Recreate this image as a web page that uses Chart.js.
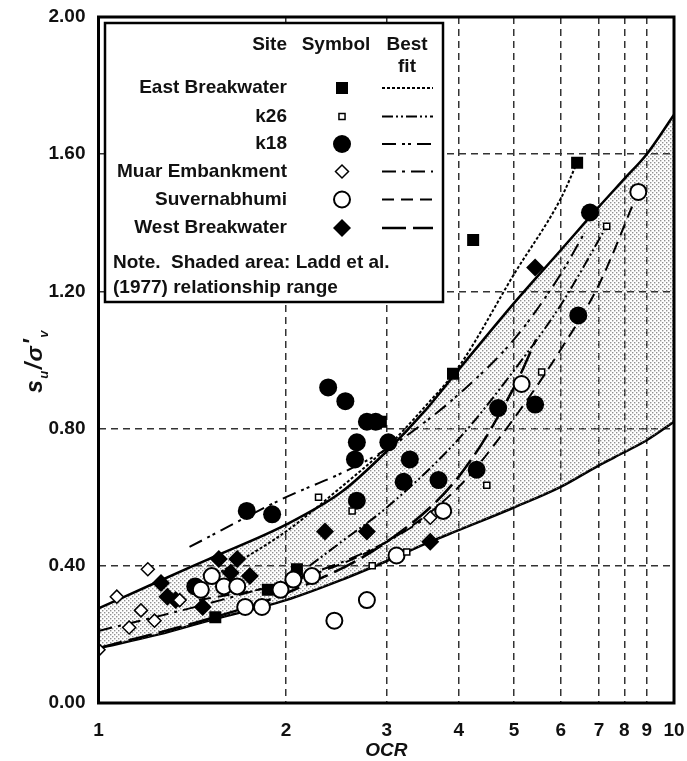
<!DOCTYPE html>
<html>
<head>
<meta charset="utf-8">
<script src="https://cdn.jsdelivr.net/npm/chart.js@4/dist/chart.umd.min.js"></script>
<style>
  html, body { margin: 0; padding: 0; background: #fff; }
  #wrap { width: 687px; height: 761px; }
</style>
</head>
<body>
<div id="wrap"><canvas id="c" width="687" height="761"></canvas></div>
<script>
// ---- axis ticks ----
const ocrTicks = [1, 2, 3, 4, 5, 6, 7, 8, 9, 10];
const ratioTicks = [0, 0.4, 0.8, 1.2, 1.6, 2.0];

// ---- Ladd et al. (1977) relationship range ----
const laddOCR   = [1, 1.25, 1.5, 2, 2.5, 3, 3.5, 4, 5, 6, 7, 8, 9, 10];
const laddUpper = [0.276, 0.355, 0.419, 0.52, 0.615, 0.734, 0.853, 0.972, 1.166, 1.32, 1.447, 1.528, 1.60, 1.715];
const laddLower = [0.16, 0.20, 0.24, 0.30, 0.359, 0.414, 0.464, 0.504, 0.57, 0.63, 0.693, 0.731, 0.766, 0.82];

// ---- measured points per site ----
const eastOCR = [1.54, 1.87, 2.09, 2.93, 3.91, 4.24, 6.41];
const eastSu  = [0.25, 0.33, 0.39, 0.82, 0.96, 1.35, 1.575];

const k26OCR = [2.28, 2.61, 2.83, 3.25, 4.48, 5.57, 7.29];
const k26Su  = [0.60, 0.56, 0.40, 0.44, 0.635, 0.965, 1.39];

const k18OCR = [1.43, 1.73, 1.90, 2.37, 2.54, 2.64, 2.66, 2.66, 2.77, 2.87, 3.02, 3.21, 3.29, 3.69, 4.30, 4.69, 5.43, 6.44, 6.75];
const k18Su  = [0.34, 0.56, 0.55, 0.92, 0.88, 0.71, 0.76, 0.59, 0.82, 0.82, 0.76, 0.645, 0.71, 0.65, 0.68, 0.86, 0.87, 1.13, 1.43];

const muarOCR = [1.00, 1.07, 1.12, 1.17, 1.20, 1.23, 1.35, 3.57];
const muarSu  = [0.155, 0.31, 0.22, 0.27, 0.39, 0.24, 0.30, 0.54];

const suvOCR = [1.46, 1.52, 1.59, 1.67, 1.72, 1.83, 1.96, 2.06, 2.22, 2.43, 2.77, 3.12, 3.76, 5.15, 8.61];
const suvSu  = [0.33, 0.37, 0.34, 0.34, 0.28, 0.28, 0.33, 0.36, 0.37, 0.24, 0.30, 0.43, 0.56, 0.93, 1.49];

const westOCR = [1.26, 1.29, 1.33, 1.47, 1.56, 1.63, 1.67, 1.75, 2.34, 2.77, 3.57, 5.43];
const westSu  = [0.35, 0.31, 0.30, 0.28, 0.42, 0.38, 0.42, 0.37, 0.50, 0.50, 0.47, 1.27];

// ---- best-fit curves per site ----
const eastFitOCR = [1.5, 2, 2.5, 3, 3.5, 4, 5, 6, 6.41];
const eastFitSu  = [0.36, 0.50, 0.63, 0.745, 0.865, 0.98, 1.25, 1.47, 1.575];
const k26FitOCR = [2.2, 2.5, 3, 4, 5, 6, 7.29];
const k26FitSu  = [0.40, 0.47, 0.57, 0.77, 0.97, 1.16, 1.39];
const k18FitOCR = [1.40, 2, 2.5, 3, 3.5, 4, 5, 6, 6.6];
const k18FitSu  = [0.455, 0.60, 0.67, 0.74, 0.82, 0.90, 1.06, 1.25, 1.37];
const muarFitOCR = [1, 1.5, 2, 2.5, 3, 3.6];
const muarFitSu  = [0.21, 0.29, 0.355, 0.41, 0.47, 0.55];
const suvFitOCR = [1.45, 2, 3, 4, 5, 6, 7, 8.6];
const suvFitSu  = [0.30, 0.35, 0.47, 0.63, 0.83, 1.03, 1.22, 1.49];
const westFitOCR = [1, 1.5, 2, 3, 4, 5, 5.45];
const westFitSu  = [0.16, 0.245, 0.32, 0.47, 0.66, 0.92, 1.06];

const siteNames = ['East Breakwater', 'k26', 'k18', 'Muar Embankment', 'Suvernabhumi', 'West Breakwater'];

// ---- styles ----
const FONT = "'Liberation Sans', Arial, Helvetica, sans-serif";
const INK = '#111';
const markers = [
  { pointStyle: 'rect',    radius: 8.5, fill: '#000', border: 0 },
  { pointStyle: 'rect',    radius: 4.3, fill: '#fff', border: 1.5 },
  { pointStyle: 'circle',  radius: 9,   fill: '#000', border: 0 },
  { pointStyle: 'rectRot', radius: 6.5, fill: '#fff', border: 1.5 },
  { pointStyle: 'circle',  radius: 8,   fill: '#fff', border: 2 },
  { pointStyle: 'rectRot', radius: 9,   fill: '#000', border: 0 }
];
const fitDash = [
  [3, 2],
  [11, 3, 2, 3, 2, 3],
  [14, 6, 3, 3, 3, 6],
  [14, 6, 3, 6],
  [12, 7],
  [24, 7]
];
const fitWidth = [2, 2, 2, 2, 2, 2.5];

// Unevenly spaced OCR axis: each decade stop sits at a fixed fraction of the width
const axisStops = [0, 0.3258, 0.5008, 0.6259, 0.7220, 0.8031, 0.8697, 0.9136, 0.9526, 1];

class OcrScale extends Chart.LinearScale {
  static id = 'ocr';
  static defaults = Chart.LinearScale.defaults;
  buildTicks() {
    this.min = 1; this.max = 10;
    return ocrTicks.map(v => ({ value: v }));
  }
  toDecimal(v) {
    if (v <= ocrTicks[0]) return axisStops[0] + Math.log(v / ocrTicks[0]) / Math.log(ocrTicks[1] / ocrTicks[0]) * (axisStops[1] - axisStops[0]);
    for (let i = 0; i < ocrTicks.length - 1; i++) {
      const a = ocrTicks[i], b = ocrTicks[i + 1];
      if (v <= b || i === ocrTicks.length - 2) {
        const f = Math.log(v / a) / Math.log(b / a);
        return axisStops[i] + f * (axisStops[i + 1] - axisStops[i]);
      }
    }
    return 1;
  }
  fromDecimal(d) {
    for (let i = 0; i < axisStops.length - 1; i++) {
      if (d <= axisStops[i + 1] || i === axisStops.length - 2) {
        const f = (d - axisStops[i]) / (axisStops[i + 1] - axisStops[i]);
        const a = ocrTicks[i], b = ocrTicks[i + 1];
        return a * Math.pow(b / a, f);
      }
    }
    return 10;
  }
  getPixelForValue(value) {
    if (value === null || value === undefined || isNaN(value)) return NaN;
    return this.getPixelForDecimal(this.toDecimal(value));
  }
  getValueForPixel(pixel) {
    return this.fromDecimal(this.getDecimalForPixel(pixel));
  }
}
Chart.register(OcrScale);

const zip = (xs, ys) => xs.map((x, i) => ({ x, y: ys[i] }));
// the frame is fixed by layout.padding alone, so tick labels may overhang it
const noOverhang = s => { s.paddingLeft = 0; s.paddingRight = 0; s.paddingTop = 0; s.paddingBottom = 0; };

const canvas = document.getElementById('c');
const ctx0 = canvas.getContext('2d');

// stipple used for the Ladd range
function stipple() {
  const t = document.createElement('canvas');
  t.width = 4; t.height = 4;
  const g = t.getContext('2d');
  g.fillStyle = 'rgba(110,110,110,0.75)';
  g.fillRect(0, 0, 1.4, 1.4);
  g.fillRect(2, 2, 1.4, 1.4);
  return ctx0.createPattern(t, 'repeat');
}

const pointSets = [
  [eastOCR, eastSu], [k26OCR, k26Su], [k18OCR, k18Su],
  [muarOCR, muarSu], [suvOCR, suvSu], [westOCR, westSu]
];
const fitSets = [
  [eastFitOCR, eastFitSu], [k26FitOCR, k26FitSu], [k18FitOCR, k18FitSu],
  [muarFitOCR, muarFitSu], [suvFitOCR, suvFitSu], [westFitOCR, westFitSu]
];

const datasets = [];
// markers on top: draw order follows index (0 = topmost)
[1, 3, 4, 0, 5, 2].forEach(i => {
  const m = markers[i];
  datasets.push({
    label: siteNames[i],
    data: zip(pointSets[i][0], pointSets[i][1]),
    showLine: false,
    pointStyle: m.pointStyle,
    pointRadius: m.radius,
    pointBackgroundColor: m.fill,
    pointBorderColor: '#000',
    pointBorderWidth: m.border
  });
});
fitSets.forEach((s, i) => {
  datasets.push({
    label: siteNames[i] + ' best fit',
    data: zip(s[0], s[1]),
    showLine: true,
    pointRadius: 0,
    borderColor: '#000',
    borderWidth: fitWidth[i],
    borderDash: fitDash[i],
    cubicInterpolationMode: 'monotone',
    fill: false
  });
});
datasets.push({
  label: 'Ladd upper',
  data: zip(laddOCR, laddUpper),
  showLine: true, pointRadius: 0,
  borderColor: '#000', borderWidth: 2.5,
  cubicInterpolationMode: 'monotone',
  fill: '+1',
  backgroundColor: stipple()
});
datasets.push({
  label: 'Ladd lower',
  data: zip(laddOCR, laddLower),
  showLine: true, pointRadius: 0,
  borderColor: '#000', borderWidth: 2.5,
  cubicInterpolationMode: 'monotone',
  fill: false
});

// frame, axis titles and the site/symbol/best-fit table
const decor = {
  id: 'decor',
  afterDraw(chart) {
    const ctx = chart.ctx;
    const a = chart.chartArea;
    ctx.save();
    ctx.strokeStyle = '#000';
    ctx.lineWidth = 3;
    ctx.setLineDash([]);
    ctx.strokeRect(a.left, a.top, a.right - a.left, a.bottom - a.top);

    // x title
    ctx.fillStyle = INK;
    ctx.font = `italic bold 19px ${FONT}`;
    ctx.textAlign = 'center';
    ctx.textBaseline = 'middle';
    ctx.fillText('OCR', (a.left + a.right) / 2, 751);

    // y title s_u / σ'_v
    ctx.save();
    ctx.translate(34, 361);
    ctx.rotate(-Math.PI / 2);
    const big = `italic bold 23px ${FONT}`;
    const small = `italic bold 13px ${FONT}`;
    const parts = [
      ['s', big, 0], ['u', small, 6], ['/', big, 0], ['\u03C3', big, 0], ['\u2032', big, -2], ['v', small, 6]
    ];
    let total = 0;
    parts.forEach(p => { ctx.font = p[1]; total += ctx.measureText(p[0]).width + 1.5; });
    let x = -total / 2;
    ctx.textAlign = 'left';
    ctx.textBaseline = 'alphabetic';
    parts.forEach(p => {
      ctx.font = p[1];
      ctx.fillText(p[0], x, 8 + p[2]);
      x += ctx.measureText(p[0]).width + 1.5;
    });
    ctx.restore();

    // table box
    const bx = 105, by = 23, bw = 338, bh = 279;
    ctx.fillStyle = '#fff';
    ctx.fillRect(bx, by, bw, bh);
    ctx.lineWidth = 2.5;
    ctx.strokeStyle = '#000';
    ctx.strokeRect(bx, by, bw, bh);

    ctx.fillStyle = INK;
    ctx.font = `bold 19px ${FONT}`;
    ctx.textBaseline = 'middle';
    ctx.textAlign = 'right';
    ctx.fillText('Site', 287, 45);
    ctx.textAlign = 'center';
    ctx.fillText('Symbol', 336, 45);
    ctx.fillText('Best', 407, 45);
    ctx.fillText('fit', 407, 67);

    const rowY = [88, 116.5, 144, 171.5, 199.5, 228];
    siteNames.forEach((name, i) => {
      const y = rowY[i];
      ctx.fillStyle = INK;
      ctx.textAlign = 'right';
      ctx.fillText(name, 287, y);
      const m = markers[i];
      ctx.fillStyle = m.fill;
      ctx.strokeStyle = '#000';
      ctx.lineWidth = m.border;
      ctx.setLineDash([]);
      Chart.helpers.drawPoint(ctx, { pointStyle: m.pointStyle, radius: m.radius, rotation: 0, borderWidth: m.border }, 342, y);
      ctx.beginPath();
      ctx.lineWidth = fitWidth[i];
      ctx.setLineDash(fitDash[i]);
      ctx.moveTo(382, y);
      ctx.lineTo(433, y);
      ctx.stroke();
      ctx.setLineDash([]);
    });

    ctx.fillStyle = INK;
    ctx.textAlign = 'left';
    ctx.fillText('Note.  Shaded area: Ladd et al.', 113, 263);
    ctx.fillText('(1977) relationship range', 113, 288);
    ctx.restore();
  }
};

new Chart(canvas, {
  type: 'scatter',
  data: { datasets },
  plugins: [decor],
  options: {
    responsive: false,
    animation: false,
    devicePixelRatio: 1,
    events: [],
    layout: { autoPadding: false, padding: { top: 17, right: 13, left: 0, bottom: 0 } },
    plugins: { legend: { display: false }, tooltip: { enabled: false } },
    scales: {
      x: {
        type: 'ocr',
        position: 'bottom',
        min: 1, max: 10,
        grid: { color: '#333', lineWidth: 1.5, drawTicks: false },
        border: { display: false, dash: [7, 5] },
        ticks: {
          color: INK, padding: 16, maxRotation: 0, autoSkip: false,
          font: { family: FONT, size: 19, weight: 'bold' },
          callback: v => String(v)
        },
        afterFit: s => { s.height = 58; noOverhang(s); }
      },
      y: {
        type: 'linear',
        min: 0, max: 2,
        grid: { color: '#333', lineWidth: 1.5, drawTicks: false },
        border: { display: false, dash: [7, 5] },
        afterBuildTicks: s => { s.ticks = ratioTicks.map(v => ({ value: v })); },
        ticks: {
          color: INK, padding: 13,
          font: { family: FONT, size: 19, weight: 'bold' },
          callback: v => Number(v).toFixed(2)
        },
        afterFit: s => { s.width = 98.5; noOverhang(s); }
      }
    }
  }
});
</script>
</body>
</html>
